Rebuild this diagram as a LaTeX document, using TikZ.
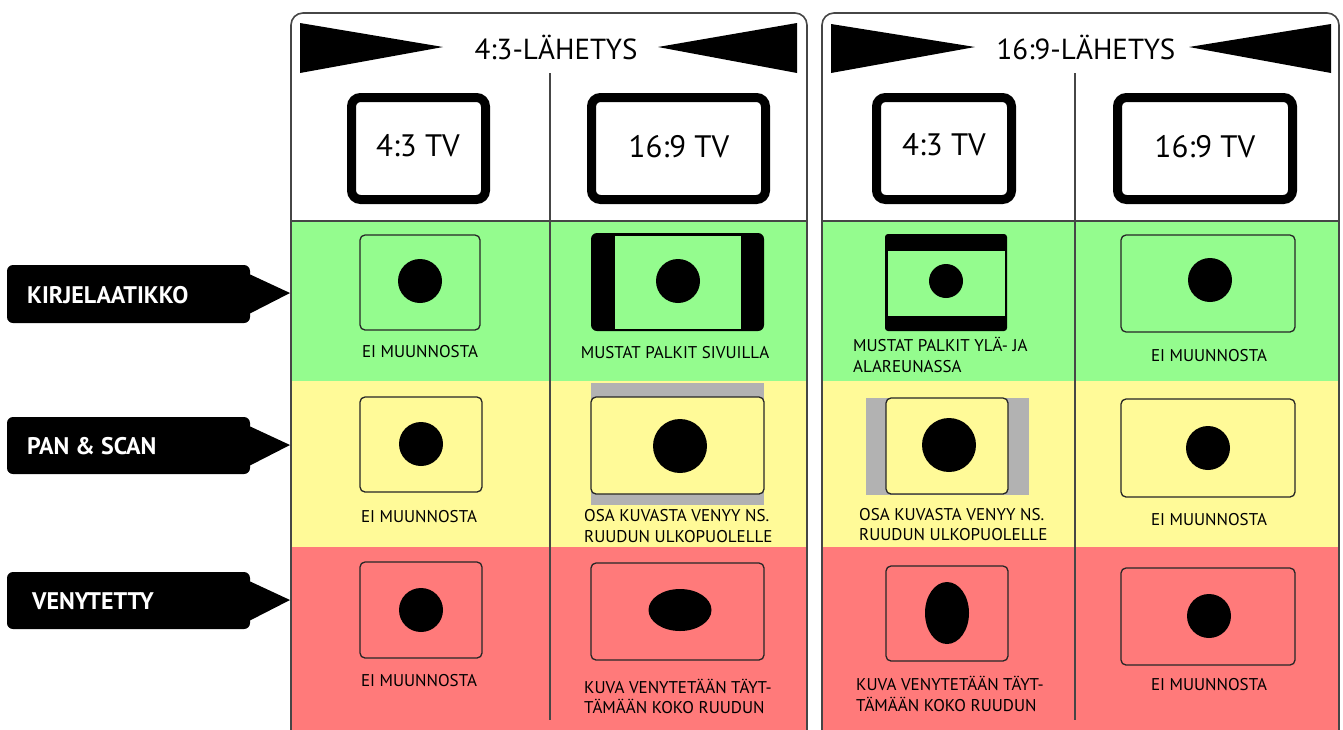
\documentclass[tikz,border=0pt]{standalone}
\usepackage{fontspec}
\setmainfont{PT Sans}
\definecolor{grn}{RGB}{148,252,142}
\definecolor{ylw}{RGB}{255,250,152}
\definecolor{rd}{RGB}{255,122,122}
\definecolor{gry}{RGB}{178,178,178}
\definecolor{ln}{RGB}{70,70,70}
\begin{document}
\begin{tikzpicture}[x=1pt,y=-1pt,
  txt/.style={inner sep=0pt, text depth=0pt},
  title/.style={txt, text height=20.3pt, font=\fontsize{29}{29}\selectfont},
  tvtxt/.style={txt, text height=21.7pt, font=\fontsize{31}{31}\selectfont},
  lbl/.style={txt, text height=11.9pt, font=\fontsize{17}{17}\selectfont},
  tag/.style={txt, text height=16.8pt, text=white, font=\bfseries\fontsize{24}{24}\selectfont, anchor=west},
  panel/.style={draw=ln, line width=1.6pt, rounded corners=12pt},
  divider/.style={draw=ln, line width=1.3pt},
  tv/.style={draw=black, line width=9pt, rounded corners=9pt, fill=white},
  screen/.style={draw=black!85, line width=1.3pt, rounded corners=5pt},
  dot/.style={fill=black}
]
\useasboundingbox (0,0) rectangle (1343,729);
\fill[white] (0,0) rectangle (1343,729);

% ---------- panels ----------
\foreach \xa/\xb in {291/807, 822/1339}{
  \fill[white, rounded corners=12pt] (\xa,13) rectangle (\xb,745);
  \fill[grn] (\xa,221) rectangle (\xb,381);
  \fill[ylw] (\xa,381) rectangle (\xb,547);
  \fill[rd]  (\xa,547) rectangle (\xb,745);
  \draw[divider] (\xa,221) -- (\xb,221);
  \draw[panel] (\xa,745) -- (\xa,13) -- (\xb,13) -- (\xb,745);
}
\draw[divider] (550,73) -- (550,720);
\draw[divider] (1075,73) -- (1075,720);

% ---------- headers ----------
\fill (300,23) -- (443,47) -- (300,73) -- cycle;
\fill (797,23) -- (658,47) -- (797,73) -- cycle;
\node[title] (t1) at (556,49) {4:3-LÄHETYS};
\fill (831,24) -- (975,47) -- (831,73) -- cycle;
\fill (1331,24) -- (1189,47) -- (1331,73) -- cycle;
\node[title] (t2) at (1086,49) {16:9-LÄHETYS};

% ---------- TV icons ----------
\draw[tv] (351.5,97.5) rectangle (485.5,199.5);
\node[tvtxt] (tv1) at (418,146) {4:3 TV};
\draw[tv] (591.5,97.5) rectangle (765.5,199.5);
\node[tvtxt] (tv2) at (679,147) {16:9 TV};
\draw[tv] (876.5,97.5) rectangle (1011.5,199.5);
\node[tvtxt] (tv3) at (944,145) {4:3 TV};
\draw[tv] (1117.5,97.5) rectangle (1292.5,199.5);
\node[tvtxt] (tv4) at (1205,147) {16:9 TV};

% ---------- green row ----------
\draw[screen] (360,235) rectangle (480,330);
\fill[dot] (420,281) circle (22);
\node[lbl] (g1) at (420,352) {EI MUUNNOSTA};

\fill[black, rounded corners=6pt] (591,233) rectangle (764,331);
\fill[grn] (615,235.5) rectangle (741,328.5);
\fill[dot] (678,281) circle (22);
\node[lbl] (g2) at (675,353) {MUSTAT PALKIT SIVUILLA};

\fill[black, rounded corners=3pt] (885,234) rectangle (1007,331);
\fill[grn] (887.5,251) rectangle (1004.5,316);
\fill[dot] (946,281) circle (17);
\node[lbl, anchor=west] (g3a) at (853,346) {MUSTAT PALKIT YLÄ- JA};
\node[lbl, anchor=west] (g3b) at (853,367) {ALAREUNASSA};

\draw[screen] (1121,235) rectangle (1295,332);
\fill[dot] (1210,280) circle (22);
\node[lbl] (g4) at (1209,356) {EI MUUNNOSTA};

% ---------- yellow row ----------
\draw[screen] (360,397) rectangle (482,492);
\fill[dot] (421,444) circle (22);
\node[lbl] (y1) at (419,517) {EI MUUNNOSTA};

\fill[gry] (591,383) rectangle (764,505);
\draw[screen, fill=ylw] (591,397) rectangle (764,494);
\fill[dot] (680,446) circle (27);
\node[lbl, anchor=west] (y2a) at (584,516) {OSA KUVASTA VENYY NS.};
\node[lbl, anchor=west] (y2b) at (584,537) {RUUDUN ULKOPUOLELLE};

\fill[gry] (866,398) rectangle (1029,495);
\draw[screen, fill=ylw] (886,398) rectangle (1008,494);
\fill[dot] (949,445) circle (27);
\node[lbl, anchor=west] (y3a) at (859,515) {OSA KUVASTA VENYY NS.};
\node[lbl, anchor=west] (y3b) at (859,535) {RUUDUN ULKOPUOLELLE};

\draw[screen] (1121,399) rectangle (1295,497);
\fill[dot] (1208,448) circle (22);
\node[lbl] (y4) at (1209,520) {EI MUUNNOSTA};

% ---------- red row ----------
\draw[screen] (360,562) rectangle (482,658);
\fill[dot] (421,610) circle (22);
\node[lbl] (r1) at (419,681) {EI MUUNNOSTA};

\draw[screen] (591,563) rectangle (764,660);
\fill[dot] (680,610) ellipse [x radius=31.5, y radius=21];
\node[lbl, anchor=west] (r2a) at (584,688) {KUVA VENYTETÄÄN TÄYT-};
\node[lbl, anchor=west] (r2b) at (584,708) {TÄMÄÄN KOKO RUUDUN};

\draw[screen] (886,566) rectangle (1008,661);
\fill[dot] (947,613) ellipse [x radius=22, y radius=31];
\node[lbl, anchor=west] (r3a) at (856,685) {KUVA VENYTETÄÄN TÄYT-};
\node[lbl, anchor=west] (r3b) at (856,706) {TÄMÄÄN KOKO RUUDUN};

\draw[screen] (1121,568) rectangle (1295,665);
\fill[dot] (1209,616) circle (22);
\node[lbl] (r4) at (1209,685) {EI MUUNNOSTA};

% ---------- left tags ----------
\fill[rounded corners=6pt] (7,265) rectangle (250,323);
\fill (247,273) -- (290,293) -- (247,315) -- cycle;
\node[tag] (k) at (27,295) {KIRJELAATIKKO};

\fill[rounded corners=6pt] (7,417) rectangle (250,474);
\fill (247,425) -- (290,445) -- (247,467) -- cycle;
\node[tag] (p) at (27,446) {PAN \& SCAN};

\fill[rounded corners=6pt] (7,572) rectangle (250,629);
\fill (247,580) -- (290,600) -- (247,622) -- cycle;
\node[tag] (v) at (32,601) {VENYTETTY};
\end{tikzpicture}
\end{document}
